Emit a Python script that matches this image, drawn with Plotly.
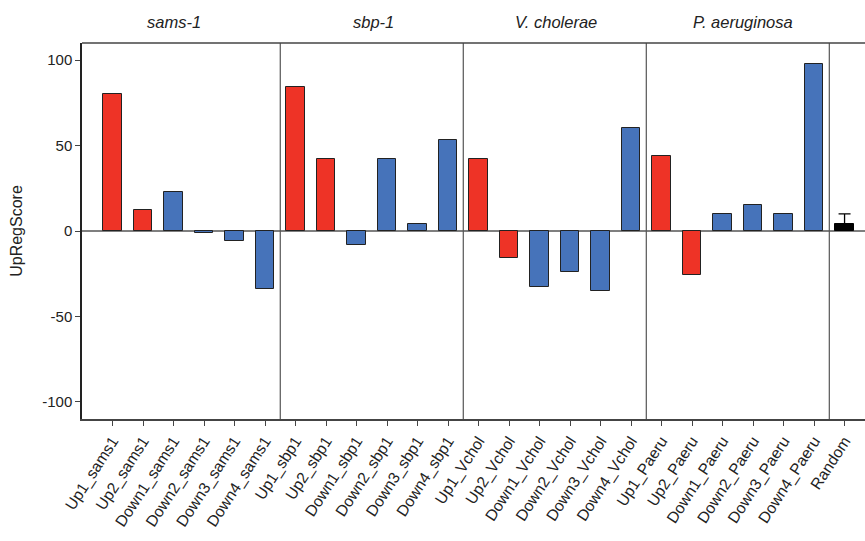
import plotly.graph_objects as go

categories = [
    "Up1_sams1", "Up2_sams1", "Down1_sams1", "Down2_sams1", "Down3_sams1", "Down4_sams1",
    "Up1_sbp1", "Up2_sbp1", "Down1_sbp1", "Down2_sbp1", "Down3_sbp1", "Down4_sbp1",
    "Up1_Vchol", "Up2_Vchol", "Down1_Vchol", "Down2_Vchol", "Down3_Vchol", "Down4_Vchol",
    "Up1_Paeru", "Up2_Paeru", "Down1_Paeru", "Down2_Paeru", "Down3_Paeru", "Down4_Paeru",
    "Random",
]
values = [
    80, 12, 23, -1, -6, -34,
    84, 42, -8, 42, 4, 53,
    42, -16, -33, -24, -35, 60,
    44, -26, 10, 15, 10, 98,
    4,
]
random_error = [6]
groups = ["sams-1", "sbp-1", "V. cholerae", "P. aeruginosa"]
group_label_pos = [2.02, 8.55, 14.54, 20.67]
separators = [5.5, 11.5, 17.5, 23.5]
y_ticks = [-100, -50, 0, 50, 100]
y_tick_text = ["-100", "-50", "0", "50", "100"]

RED = "#EE3326"
BLUE = "#4673BA"

def color_for(name):
    if name == "Random":
        return "#000000"
    return RED if name.startswith("Up") else BLUE

xs = list(range(len(categories)))
fig = go.Figure()
fig.add_trace(go.Bar(
    x=xs[:-1], y=values[:-1],
    marker=dict(color=[color_for(c) for c in categories[:-1]],
                line=dict(color="#222222", width=1)),
    width=0.6, showlegend=False,
))
fig.add_trace(go.Bar(
    x=[xs[-1]], y=[values[-1]],
    marker=dict(color="#000000", line=dict(color="#000000", width=1)),
    width=0.6, showlegend=False,
    error_y=dict(type="data", array=random_error, arrayminus=[0], symmetric=False,
                 color="#000000", thickness=1.3, width=6),
))

shapes = []
shapes.append(dict(type="line", xref="paper", yref="y", x0=0, x1=1, y0=0, y1=0,
                   line=dict(color="#555555", width=1.3), layer="below"))
for s in separators:
    shapes.append(dict(type="line", xref="x", yref="paper", x0=s, x1=s, y0=0, y1=1,
                       line=dict(color="#555555", width=1.2), layer="above"))
shapes.append(dict(type="line", xref="paper", yref="paper", x0=0, x1=1, y0=1, y1=1,
                   line=dict(color="#444444", width=1.5)))

annotations = []
for g, p in zip(groups, group_label_pos):
    annotations.append(dict(text=f"<i>{g}</i>", x=p, y=1, xref="x", yref="paper",
                            yanchor="bottom", yshift=10, showarrow=False,
                            font=dict(size=16.5, color="#222222")))

fig.update_layout(
    width=865, height=541,
    margin=dict(l=82, r=0, t=43, b=122),
    plot_bgcolor="white", paper_bgcolor="white",
    font=dict(family="Liberation Sans, Arial, sans-serif", color="#222222"),
    bargap=0,
    shapes=shapes,
    annotations=annotations,
    xaxis=dict(
        range=[-1, 24.67], tickmode="array", tickvals=xs, ticktext=categories,
        tickangle=-57, ticks="outside", ticklen=5, tickwidth=1.2, tickcolor="#444444",
        showline=True, linecolor="#444444", linewidth=1.5,
        showgrid=False, zeroline=False, tickfont=dict(size=15.7, color="#222222"),
    ),
    yaxis=dict(
        range=[-110, 110], tickmode="array", tickvals=y_ticks, ticktext=y_tick_text,
        ticks="outside", ticklen=5, tickwidth=1.2, tickcolor="#444444",
        showline=True, linecolor="#222222", linewidth=1.5,
        showgrid=False, zeroline=False, tickfont=dict(size=15, color="#222222"),
        title=dict(text="UpRegScore", font=dict(size=16, color="#222222"), standoff=16),
    ),
)

fig.write_html("out.html")
